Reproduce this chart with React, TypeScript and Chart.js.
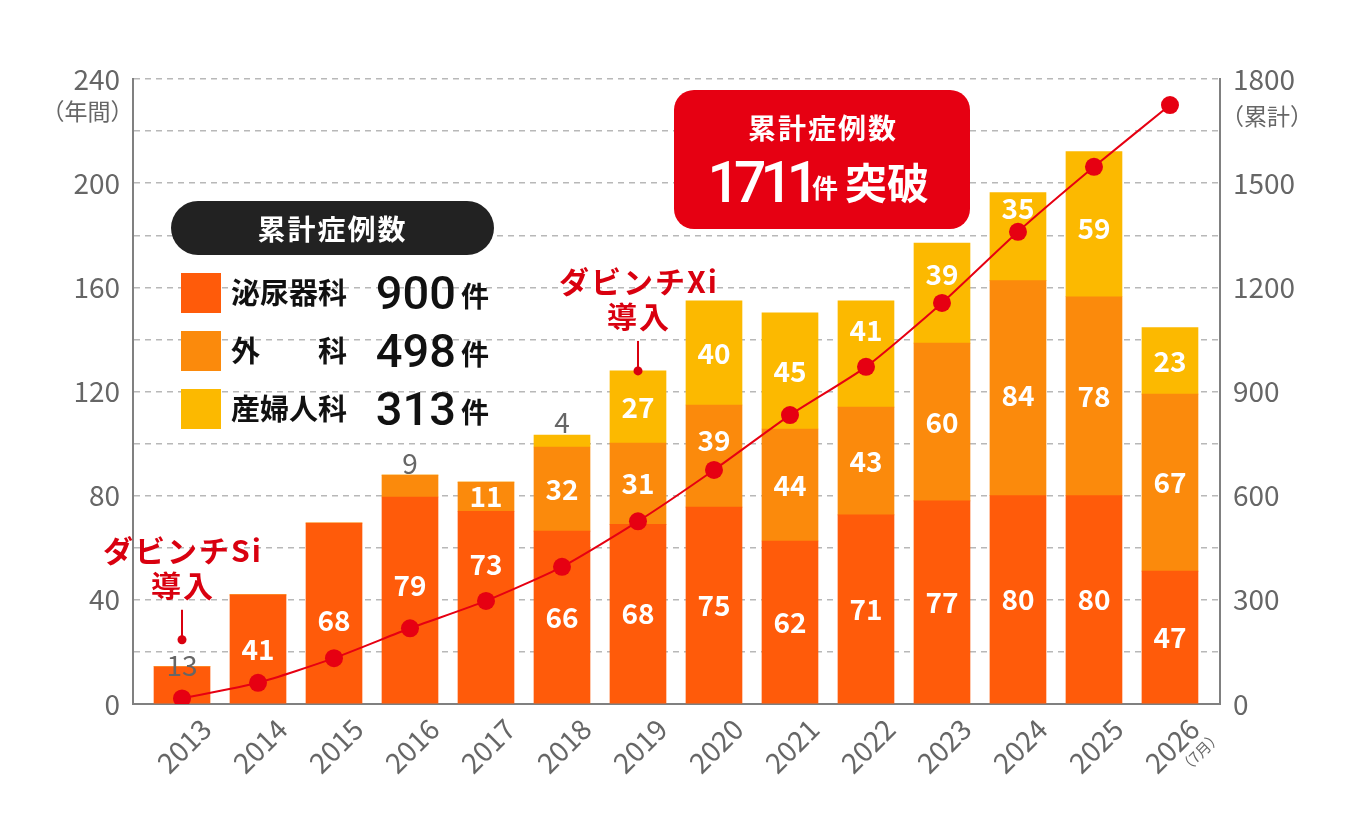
import { useEffect, useRef } from 'react'
import { Chart, registerables } from 'chart.js'

Chart.register(...registerables)

const FONT = '"Noto Sans CJK JP", "Noto Sans", sans-serif'
const NUM_FONT = 'Roboto, "Noto Sans", sans-serif'

const years = ['2013', '2014', '2015', '2016', '2017', '2018', '2019', '2020', '2021', '2022', '2023', '2024', '2025', '2026']

// bar heights as drawn (left axis, cases per year)
const urologyBars = [14.3, 41.9, 69.5, 79.5, 74, 66.4, 69, 75.6, 62.6, 72.6, 78, 80, 80, 51]
const surgeryBars = [0, 0, 0, 8.4, 11.2, 32.3, 31.2, 39.2, 43, 41.4, 60.6, 82.6, 76.4, 68]
const gynecologyBars = [0, 0, 0, 0, 0, 4.6, 27.7, 40, 44.6, 40.8, 38.4, 33.8, 55.7, 25.5]

// numbers printed on the bars
const urologyCounts = [13, 41, 68, 79, 73, 66, 68, 75, 62, 71, 77, 80, 80, 47]
const surgeryCounts = [null, null, null, 9, 11, 32, 31, 39, 44, 43, 60, 84, 78, 67]
const gynecologyCounts = [null, null, null, null, null, 4, 27, 40, 45, 41, 39, 35, 59, 23]

// cumulative cases (right axis)
const cumulative = [16, 61, 132, 218, 297, 395, 526, 674, 832, 971, 1155, 1360, 1547, 1725]

const legendNames = ['泌尿器科', '外　　科', '産婦人科']
const legendTotals = [900, 498, 313]
const grandTotal = 1711

const UROLOGY = '#FF5B0A'
const SURGERY = '#FB8A0C'
const GYNECOLOGY = '#FCB900'
const RED = '#E60012'
const NOTE_RED = '#D9000F'
const GRAY = '#666'
const AXIS = '#808080'
const legendColors = [UROLOGY, SURGERY, GYNECOLOGY]

// dataset 0 is the line, bars are 1..3
const countSets = [urologyCounts, surgeryCounts, gynecologyCounts]

// label placement tweaks (px): gray labels sit above the bar top, others move off the line
const outsideLabels: Record<string, number> = { '0:0': -1, '1:3': -12, '2:5': -13 }
const labelShift: Record<string, number> = {
  '0:2': 7, '0:3': -15, '0:4': -43,
  '1:7': -16, '1:11': 7,
  '2:9': -24, '2:10': -19, '2:11': -28, '2:12': 4,
}

const notes = [
  { text: 'ダビンチSi', dataset: 1, index: 0, lift: -27 },
  { text: 'ダビンチXi', dataset: 3, index: 6, lift: 0 },
]

const barLabels = {
  id: 'barLabels',
  afterDatasetDraw(chart: any, args: any) {
    if (args.index !== 1) return
    const ctx = chart.ctx
    ctx.save()
    ctx.textAlign = 'center'
    ctx.textBaseline = 'middle'
    countSets.forEach((counts, di) => {
      const meta = chart.getDatasetMeta(di + 1)
      meta.data.forEach((el: any, i: number) => {
        const v = counts[i]
        if (v == null) return
        const key = `${di}:${i}`
        if (outsideLabels[key] !== undefined) {
          ctx.fillStyle = GRAY
          ctx.font = `400 28px ${FONT}`
          ctx.fillText(String(v), el.x, el.y + outsideLabels[key])
        } else {
          ctx.fillStyle = '#fff'
          ctx.font = `700 28px ${FONT}`
          ctx.fillText(String(v), el.x, (el.y + el.base) / 2 + (labelShift[key] ?? 0))
        }
      })
    })
    ctx.restore()
  },
}

const extras = {
  id: 'extras',
  afterDraw(chart: any) {
    const ctx = chart.ctx
    const { left, right, top, bottom } = chart.chartArea
    ctx.save()
    ctx.fillStyle = GRAY
    ctx.textAlign = 'center'
    ctx.textBaseline = 'middle'
    ctx.font = `400 23px ${FONT}`
    ctx.fillText('（年間）', left - 45.5, top + 32)
    ctx.fillText('（累計）', right + 47, top + 37)

    const px = chart.scales.x.getPixelForValue(13) + 30
    ctx.save()
    ctx.translate(px, bottom + 48)
    ctx.rotate(-Math.PI / 4)
    ctx.font = `400 15px ${FONT}`
    ctx.fillText('（7月）', 0, 0)
    ctx.restore()

    // da Vinci introduction notes
    notes.forEach((n) => {
      const el: any = chart.getDatasetMeta(n.dataset).data[n.index]
      const x = el.x
      const y = el.y + n.lift
      ctx.strokeStyle = NOTE_RED
      ctx.fillStyle = NOTE_RED
      ctx.lineWidth = 2
      ctx.beginPath()
      ctx.moveTo(x, y - 30)
      ctx.lineTo(x, y)
      ctx.stroke()
      ctx.beginPath()
      ctx.arc(x, y, 4.5, 0, Math.PI * 2)
      ctx.fill()
      ctx.font = `700 30px ${FONT}`
      ;(ctx as any).letterSpacing = '2px'
      ctx.fillText(n.text, x + 1, y - 89)
      ctx.fillText('導入', x + 1, y - 54)
      ;(ctx as any).letterSpacing = '0px'
    })
    ctx.restore()
  },
}

function ComboChart() {
  const ref = useRef<HTMLCanvasElement | null>(null)
  useEffect(() => {
    if (!ref.current) return
    Chart.defaults.font.family = FONT
    const tickFont = { size: 28, family: FONT }
    const chart = new Chart(ref.current, {
      data: {
        labels: years,
        datasets: [
          {
            type: 'line', label: '累計', data: cumulative, yAxisID: 'y1', order: 0,
            borderColor: RED, borderWidth: 2, tension: 0.2,
            pointRadius: 9, pointHoverRadius: 9, pointBackgroundColor: RED, pointBorderWidth: 0,
          },
          { type: 'bar', label: legendNames[0], data: urologyBars, backgroundColor: UROLOGY, barThickness: 56, order: 1 },
          { type: 'bar', label: legendNames[1], data: surgeryBars, backgroundColor: SURGERY, barThickness: 56, order: 1 },
          { type: 'bar', label: legendNames[2], data: gynecologyBars, backgroundColor: GYNECOLOGY, barThickness: 56, order: 1 },
        ] as any,
      },
      options: {
        responsive: true,
        maintainAspectRatio: false,
        animation: false,
        layout: { padding: { top: 79, left: 0, right: 0, bottom: 0 } },
        plugins: { legend: { display: false }, tooltip: { enabled: false } },
        scales: {
          x: {
            stacked: true,
            afterFit: (s: any) => { s.height = 134 },
            afterBuildTicks: (s: any) => { s._startValue = -0.6448; s._valueRange = 14.303 },
            grid: { display: false, drawTicks: false },
            border: { display: true, color: AXIS, width: 2 },
            ticks: {
              minRotation: 45, maxRotation: 45, autoSkip: false,
              labelOffset: 24, padding: 8, color: GRAY, font: tickFont,
            },
          },
          y: {
            stacked: true, min: 0, max: 240, position: 'left',
            afterFit: (s: any) => { s.width = 133 },
            grid: { color: '#b8b8b8', lineWidth: 1.5, drawTicks: false },
            border: { display: true, color: AXIS, width: 2, dash: [6, 5] },
            ticks: {
              stepSize: 20, padding: 13, color: GRAY, font: tickFont,
              callback: (v: any) => (Number(v) % 40 === 0 ? String(v) : ''),
            },
          },
          y1: {
            min: 0, max: 1800, position: 'right',
            afterFit: (s: any) => { s.width = 138 },
            grid: { display: false, drawTicks: false },
            border: { display: true, color: AXIS, width: 2 },
            ticks: {
              stepSize: 150, padding: 13, color: GRAY, font: tickFont,
              callback: (v: any) => (Number(v) % 300 === 0 ? String(v) : ''),
            },
          },
        },
      } as any,
      plugins: [barLabels, extras],
    })
    return () => chart.destroy()
  }, [])
  return (
    <div style={{ position: 'absolute', left: 0, top: 0, width: 1358, height: 838 }}>
      <canvas ref={ref} />
    </div>
  )
}

const abs = (s: any) => ({ position: 'absolute', whiteSpace: 'nowrap', lineHeight: 1, ...s }) as any

export default function App() {
  useEffect(() => { document.body.style.margin = '0' }, [])
  return (
    <div style={{ position: 'relative', width: 1358, height: 838, background: '#fff', fontFamily: FONT, overflow: 'hidden' }}>
      <ComboChart />

      {/* legend */}
      <div style={abs({ left: 171, top: 201, width: 323, height: 54, borderRadius: 27, background: '#222' })} />
      <span style={abs({ left: 171, top: 214.4, width: 323, textAlign: 'center', color: '#fff', fontSize: 28, fontWeight: 700, letterSpacing: 2 })}>累計症例数</span>
      {legendNames.map((name, i) => {
        const rowTop = 273 + i * 58
        return (
          <div key={name}>
            <div style={abs({ left: 181, top: rowTop, width: 40, height: 40, background: legendColors[i] })} />
            <span style={abs({ left: 231, top: rowTop + 4, fontSize: 29, fontWeight: 700, color: '#111' })}>{name}</span>
            <span style={abs({ left: 330, top: rowTop - 3.6, width: 126, textAlign: 'right', fontFamily: NUM_FONT, fontSize: 47, fontWeight: 500, color: '#111' })}>{legendTotals[i]}</span>
            <span style={abs({ left: 461, top: rowTop + 8, fontSize: 28, fontWeight: 700, color: '#111' })}>件</span>
          </div>
        )
      })}

      {/* total badge */}
      <div style={abs({ left: 674, top: 90, width: 296, height: 139, borderRadius: 20, background: RED })} />
      <span style={abs({ left: 674, top: 113.1, width: 298, textAlign: 'center', color: '#fff', fontSize: 28, fontWeight: 700, letterSpacing: 2 })}>累計症例数</span>
      <span style={abs({ right: 544.8, top: 153.6, color: '#fff', fontFamily: NUM_FONT, fontSize: 57, fontWeight: 500, letterSpacing: -6 })}>{grandTotal}</span>
      <span style={abs({ left: 812, top: 173.8, color: '#fff', fontSize: 26, fontWeight: 700 })}>件</span>
      <span style={abs({ left: 845, top: 159.6, color: '#fff', fontSize: 42, fontWeight: 700 })}>突破</span>
    </div>
  )
}
